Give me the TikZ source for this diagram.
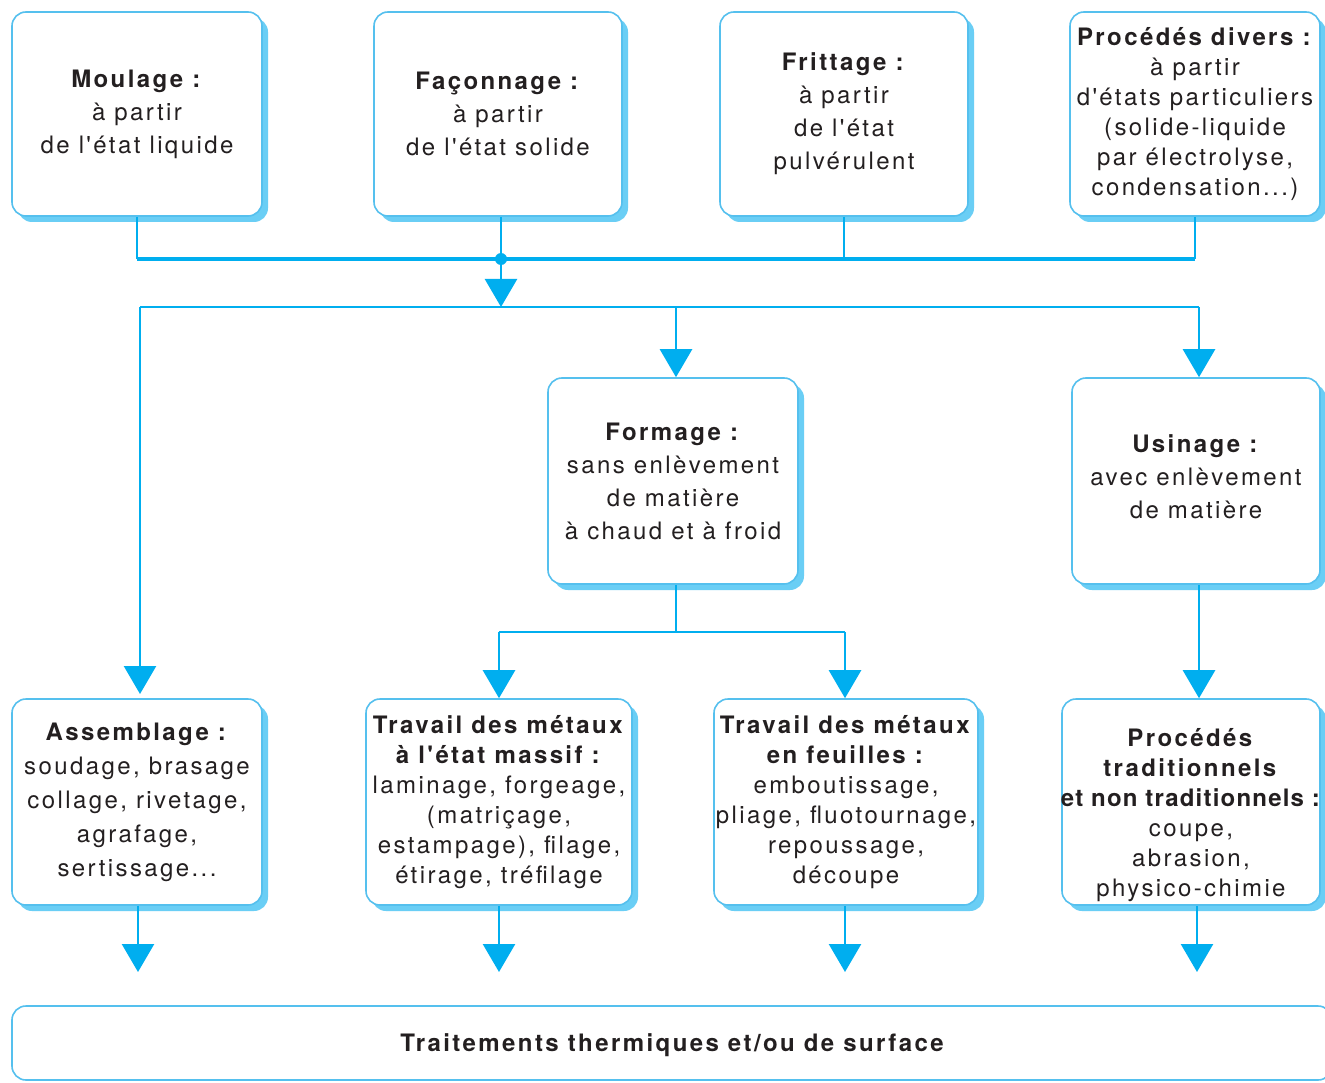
\documentclass[tikz,border=0pt]{standalone}
\usepackage{fontspec}
\setmainfont{TeX Gyre Heros}[Ligatures=TeXOff, LetterSpace=10]
\usetikzlibrary{arrows.meta,shadows}
\definecolor{cyanl}{HTML}{00AEEF}
\definecolor{boxb}{HTML}{55C0EE}
\definecolor{shad}{HTML}{6ACEF5}
\definecolor{txt}{HTML}{231F20}
\begin{document}
\begin{tikzpicture}[x=1pt,y=-1pt,
  box/.style={draw=boxb, line width=1.6pt, rounded corners=14pt, fill=white,
    align=center, text=txt, inner sep=0pt,
    font=\fontsize{24}{33}\selectfont,
    drop shadow={shadow xshift=6pt, shadow yshift=-6pt, fill=shad, opacity=1}},
  tbox/.style={box, font=\fontsize{24}{30}\selectfont},
  bus/.style={draw=cyanl, line width=4pt},
  conn/.style={draw=cyanl, line width=2.6pt},
  arr/.style={conn, -{Triangle[width=32pt,length=28pt]}},
]
\useasboundingbox (0,0) rectangle (1325,1083);
\fill[white] (0,0) rectangle (1325,1083);

% top row
\node[box, minimum width=250pt, minimum height=204pt] (moul) at (137,114)
  {\textbf{Moulage :}\\à partir\\de l'état liquide};
\node[box, minimum width=248pt, minimum height=204pt] (fac) at (498,114)
  {\textbf{Façonnage :}\\à partir\\de l'état solide};
\node[box, minimum width=248pt, minimum height=204pt] (fri) at (844,114)
  {\textbf{Frittage :}\\à partir\\de l'état\\pulvérulent};
\node[tbox, minimum width=250pt, minimum height=204pt] (div) at (1195,114)
  {\textbf{Procédés divers :}\\à partir\\d'états particuliers\\(solide-liquide\\par électrolyse,\\condensation...)};

% middle row
\node[box, minimum width=250pt, minimum height=206pt] (form) at (673,481)
  {\textbf{Formage :}\\sans enlèvement\\de matière\\à chaud et à froid};
\node[box, minimum width=248pt, minimum height=206pt] (usi) at (1196,481)
  {\textbf{Usinage :}\\avec enlèvement\\de matière\\[-24pt]\mbox{}};

% bottom row
\node[box, font=\fontsize{24}{34}\selectfont, minimum width=250pt, minimum height=206pt] (ass) at (137,802)
  {\textbf{Assemblage :}\\soudage, brasage\\collage, rivetage,\\agrafage,\\sertissage...};
\node[tbox, minimum width=266pt, minimum height=206pt] (mas) at (499,802)
  {\textbf{Travail des métaux}\\\textbf{à l'état massif :}\\laminage, forgeage,\\(matriçage,\\estampage), filage,\\étirage, tréfilage};
\node[tbox, minimum width=264pt, minimum height=206pt] (feu) at (846,802)
  {\textbf{Travail des métaux}\\\textbf{en feuilles :}\\emboutissage,\\pliage, fluotournage,\\repoussage,\\découpe};
\node[tbox, minimum width=258pt, minimum height=206pt] (tra) at (1191,802)
  {\mbox{}\\[14pt]\textbf{Procédés}\\\textbf{traditionnels}\\\makebox[230pt]{\addfontfeature{LetterSpace=5}\textbf{et non traditionnels :}}\\coupe,\\abrasion,\\physico-chimie};

% final box
\node[draw=boxb, line width=1.6pt, rounded corners=14pt, fill=white,
  minimum width=1320pt, minimum height=74pt, inner sep=0pt] (fin) at (672,1043) {};
\node[text=txt, font=\bfseries\fontsize{24}{28}\selectfont] (fint) at (672,1045)
  {Traitements thermiques et/ou de surface};

% junction coordinates
\coordinate (j1) at (501,259);
\coordinate (j2) at (501,307);
\coordinate (j3) at (676,632);
\coordinate (e1) at (138,972);
\coordinate (e2) at (499,972);
\coordinate (e3) at (845,972);
\coordinate (e4) at (1197,972);

% top collection
\draw[conn] (moul.south) -- (moul.south |- j1);
\draw[conn] (fac.south -| j1) -- (j1);
\draw[conn] (fri.south) -- (fri.south |- j1);
\draw[conn] (div.south) -- (div.south |- j1);
\draw[bus] (moul.south |- j1) -- (div.south |- j1);
\fill[cyanl] (j1) circle (6pt);
\draw[arr] (j1) -- (j2);

% distribution
\draw[conn] (140,307) -- (1199,307);
\draw[arr] (j2 -| 140,0) -- (140,694);
\draw[arr] (j2 -| 676,0) -- (form.north -| 676,0);
\draw[arr] (j2 -| 1199,0) -- (usi.north -| 1199,0);

% formage split
\draw[conn] (form.south -| j3) -- (j3);
\draw[conn] (499,632) -- (845,632);
\draw[arr] (499,632) -- (mas.north -| 499,0);
\draw[arr] (845,632) -- (feu.north -| 845,0);
\draw[arr] (usi.south -| 1199,0) -- (tra.north -| 1199,0);

% to final box
\draw[arr] (ass.south -| e1) -- (e1);
\draw[arr] (mas.south -| e2) -- (e2);
\draw[arr] (feu.south -| e3) -- (e3);
\draw[arr] (tra.south -| e4) -- (e4);
\end{tikzpicture}
\end{document}
